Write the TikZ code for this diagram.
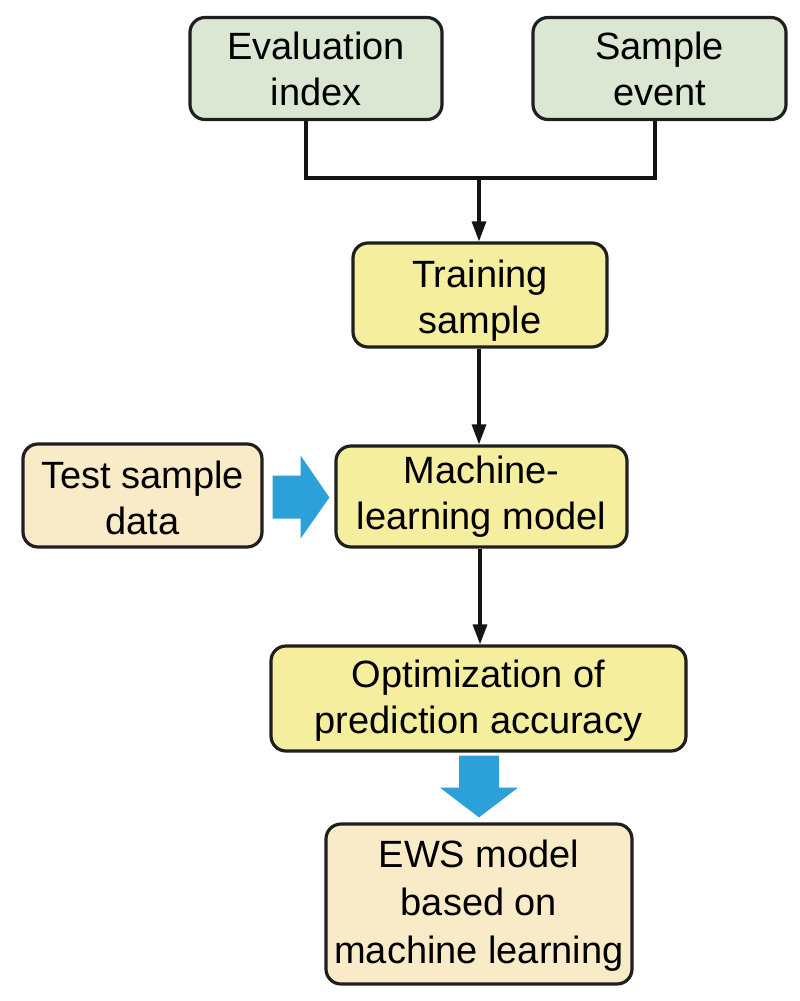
\documentclass[tikz,border=0pt]{standalone}
\usepackage{fontspec}
\setmainfont{Liberation Sans}
\usetikzlibrary{arrows.meta,calc}
\definecolor{boxgreen}{HTML}{DCE7D3}
\definecolor{boxyellow}{HTML}{F4EE9E}
\definecolor{boxtan}{HTML}{F9EBC8}
\definecolor{arrowblue}{HTML}{2CA0D9}
\newcommand\firstlift[1]{\rule{0pt}{#1}}
\tikzset{
  box/.style={draw=black!88, line width=3.2pt, rounded corners=15pt, inner sep=0pt, align=center,
    font=\fontsize{38}{46}\selectfont},
  greenbox/.style={box, fill=boxgreen},
  yellowbox/.style={box, fill=boxyellow},
  tanbox/.style={box, fill=boxtan},
  conn/.style={line width=3.2pt, draw=black!92},
  arr/.style={conn, -{Triangle[length=20pt,width=14pt]}},
  bigarrow/.style={fill=arrowblue}
}
\begin{document}
\begin{tikzpicture}[x=1pt,y=-1pt]
\useasboundingbox (0,0) rectangle (800,1001);
\node[greenbox, minimum width=252pt, minimum height=102pt] (eval) at (316,68.5) {Evaluation\\index};
\node[greenbox, minimum width=253pt, minimum height=102pt] (sample) at (659.5,68.5) {Sample\\event};
\node[yellowbox, minimum width=254pt, minimum height=104pt] (train) at (480,295) {\firstlift{39pt}Training\\sample};
\node[tanbox, minimum width=239pt, minimum height=103pt] (test) at (142.5,495.5) {\firstlift{33pt}Test sample\\data};
\node[yellowbox, minimum width=291pt, minimum height=101pt] (ml) at (481.5,496.5) {Machine-\\learning model};
\node[yellowbox, minimum width=415pt, minimum height=105pt] (opt) at (478.5,698.5) {\firstlift{31pt}Optimization of\\prediction accuracy};
\node[tanbox, minimum width=306pt, minimum height=160pt, font=\fontsize{38}{48}\selectfont] (ews) at (479,904) {\firstlift{30pt}EWS model\\based on\\machine learning};
% merge connector
\coordinate (j) at (479,178);
\draw[conn] (eval.south -| 306,0) |- (j);
\draw[conn] (sample.south -| 655,0) |- (j);
\draw[arr] (j) -- (j |- train.north);
\draw[arr] (train.south -| 479,0) -- (ml.north -| 479,0);
\draw[arr] (ml.south -| 480,0) -- (opt.north -| 480,0);
% blue block arrows
\fill[bigarrow] ($(test.east)+(9,-20)$) -- ++(28,0) -- ++(0,-20) -- ($(ml.west)+(-5,1)$) -- ($(test.east)+(37,43)$) -- ++(0,-20) -- ++(-28,0) -- cycle;
\fill[bigarrow] ($(opt.south)+(-19.5,3)$) -- ++(0,32) -- ++(-19,0) -- ($(ews.north)+(0,-5)$) -- ($(opt.south)+(39.5,35)$) -- ++(-19,0) -- ++(0,-32) -- cycle;
\end{tikzpicture}
\end{document}
